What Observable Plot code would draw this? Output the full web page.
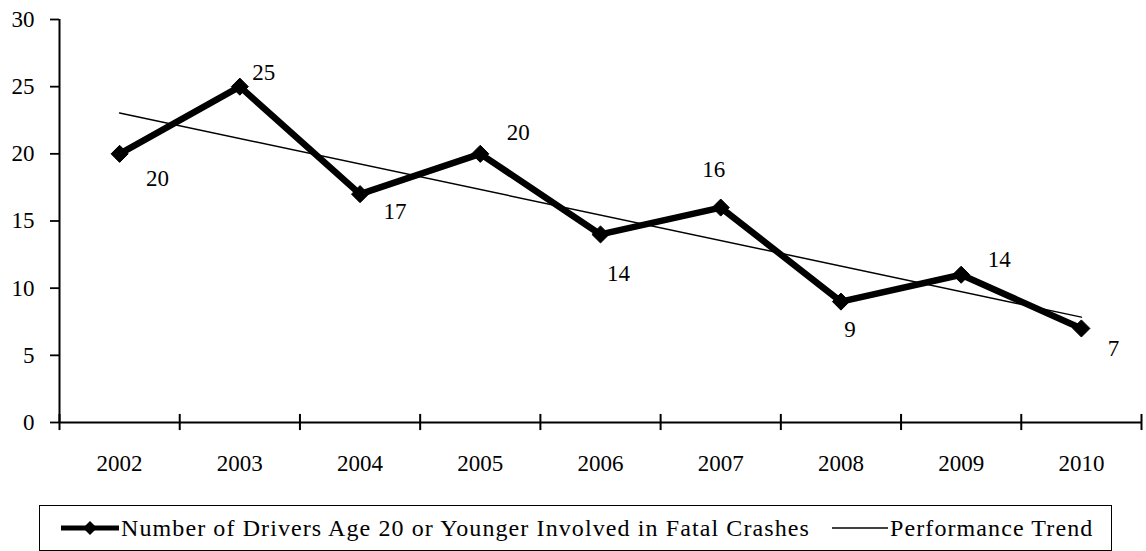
<!DOCTYPE html>
<html>
<head>
<meta charset="utf-8">
<script src="https://cdn.jsdelivr.net/npm/d3@7"></script>
<script src="https://cdn.jsdelivr.net/npm/@observablehq/plot@0.6"></script>
<style>
  html, body { margin: 0; padding: 0; background: #fff; }
  body { width: 1146px; height: 551px; overflow: hidden; font-family: "Liberation Serif", "DejaVu Serif", "Times New Roman", serif; color: #000; }
  #legend { position: relative; width: 1146px; height: 61px; }
  #legend .box { position: absolute; left: 39px; top: 15px; width: 1073px; height: 46px; border: 1.5px solid #000; box-sizing: border-box; }
  #legend .item { position: absolute; top: 0; height: 100%; display: flex; align-items: center; font-size: 24px; letter-spacing: 1.1px; white-space: nowrap; }
  #legend svg { display: block; margin-right: 2px; }
</style>
</head>
<body>
<div id="chart"></div>
<div id="legend"><div class="box"></div></div>
<script>
// ---- data ----
const years = [2002, 2003, 2004, 2005, 2006, 2007, 2008, 2009, 2010];
const drivers = [20, 25, 17, 20, 14, 16, 9, 11, 7];
const pointLabels = ["20", "25", "17", "20", "14", "16", "9", "14", "7"];
const yTicks = [0, 5, 10, 15, 20, 25, 30];
const legendLabels = ["Number of Drivers Age 20 or Younger Involved in Fatal Crashes", "Performance Trend"];

// ---- style: label offsets (px) ----
const labelOffsets = [[38, 25], [24, -14], [35, 17], [38, -21], [18, 39], [-7, -38], [9, 28], [38, -15], [32, 20]];
const FONT = "'Liberation Serif', 'DejaVu Serif', 'Times New Roman', serif";

const data = years.map((year, i) => ({year, value: drivers[i], label: pointLabels[i]}));
const boundaries = [...years.map(y => y - 0.5), years[years.length - 1] + 0.5];

const labelMarks = data.map((d, i) => Plot.text([d], {
  x: "year", y: "value", text: "label",
  dx: labelOffsets[i][0], dy: labelOffsets[i][1],
  fontSize: 23, fill: "#000", fontFamily: FONT
}));

const chart = Plot.plot({
  width: 1146, height: 490,
  marginLeft: 59, marginRight: 5, marginTop: 19, marginBottom: 68,
  style: {fontFamily: FONT, fontSize: "23px", color: "#000", background: "#fff", overflow: "visible"},
  x: {type: "linear", domain: [boundaries[0], boundaries[boundaries.length - 1]]},
  y: {domain: [0, 30]},
  marks: [
    Plot.axisY(yTicks, {tickSize: 9, tickPadding: 16, fontSize: 23, fontFamily: FONT, label: null, strokeWidth: 1.8, tickFormat: d => String(d)}),
    Plot.axisX(years, {tickSize: 0, tickPadding: 32, fontSize: 23, fontFamily: FONT, label: null, tickFormat: d => String(d)}),
    Plot.ruleX([boundaries[0]], {stroke: "#000", strokeWidth: 2}),
    Plot.ruleY([0], {stroke: "#000", strokeWidth: 2}),
    Plot.ruleX(boundaries, {y1: -0.6, y2: 0.6, stroke: "#000", strokeWidth: 2}),
    Plot.linearRegressionY(data, {x: "year", y: "value", ci: 0, stroke: "#000", strokeWidth: 1.5}),
    Plot.line(data, {x: "year", y: "value", stroke: "#000", strokeWidth: 6.5, strokeLinejoin: "miter"}),
    Plot.dot(data, {x: "year", y: "value", symbol: "diamond2", r: 7.7, fill: "#000", stroke: "#000", strokeWidth: 1}),
    ...labelMarks
  ]
});
document.getElementById("chart").appendChild(chart);

// ---- legend (HTML, below the SVG) ----
const box = document.querySelector("#legend .box");
const items = [
  {left: 21, w: 58, thick: true, text: legendLabels[0]},
  {left: 792, w: 56, thick: false, text: legendLabels[1]}
];
items.forEach(it => {
  const div = document.createElement("div");
  div.className = "item";
  div.style.left = it.left + "px";
  const ns = "http://www.w3.org/2000/svg";
  const s = document.createElementNS(ns, "svg");
  s.setAttribute("width", it.w); s.setAttribute("height", 20);
  const ln = document.createElementNS(ns, "line");
  ln.setAttribute("x1", 0); ln.setAttribute("x2", it.w);
  ln.setAttribute("y1", 10); ln.setAttribute("y2", 10);
  ln.setAttribute("stroke", "#000");
  ln.setAttribute("stroke-width", it.thick ? 5 : 1.5);
  s.appendChild(ln);
  if (it.thick) {
    const p = document.createElementNS(ns, "path");
    const cx = it.w / 2;
    p.setAttribute("d", `M${cx},3L${cx + 7},10L${cx},17L${cx - 7},10Z`);
    p.setAttribute("fill", "#000");
    s.appendChild(p);
  }
  div.appendChild(s);
  const sp = document.createElement("span");
  sp.textContent = it.text;
  div.appendChild(sp);
  box.appendChild(div);
});
</script>
</body>
</html>
